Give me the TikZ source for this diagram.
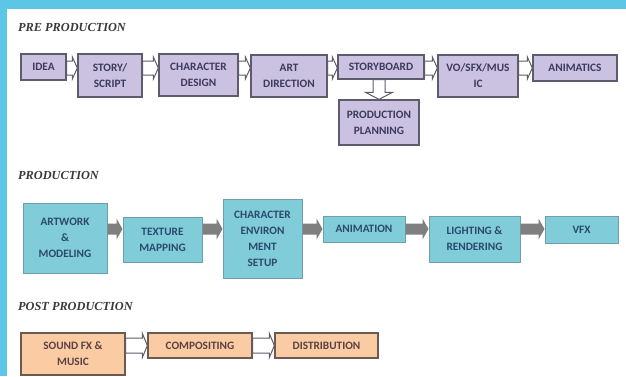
\documentclass[tikz,border=0pt]{standalone}
\usepackage{fontspec}
\setmainfont{Carlito}
\newfontfamily\titlefont{Liberation Serif}
\usetikzlibrary{calc}
\definecolor{barcyan}{HTML}{5CC6E6}
\definecolor{purfill}{HTML}{CAC2E0}
\definecolor{purline}{HTML}{5E5C6C}
\definecolor{purtext}{HTML}{3C3A5E}
\definecolor{cyfill}{HTML}{80CCD9}
\definecolor{cyline}{HTML}{6E9FAA}
\definecolor{cytext}{HTML}{2C4A6C}
\definecolor{orfill}{HTML}{FBCBA4}
\definecolor{orline}{HTML}{6A5A52}
\definecolor{ortext}{HTML}{5A4242}
\definecolor{arrgray}{HTML}{7F7F7F}
\definecolor{titlegray}{HTML}{3A3A3A}
\tikzset{
  boxtext/.style={font=\fontsize{11.3}{16}\selectfont\bfseries, align=center, inner sep=1pt},
  purbox/.style={boxtext, draw=purline, line width=1.3pt, fill=purfill, text=purtext},
  cybox/.style={boxtext, draw=cyline, line width=1pt, fill=cyfill, text=cytext},
  orbox/.style={boxtext, draw=orline, line width=1.3pt, fill=orfill, text=ortext},
  sect/.style={font=\titlefont\fontsize{12.3}{14}\selectfont\bfseries\itshape, text=titlegray, anchor=west, inner sep=0pt},
  hollow/.style={draw=purline, line width=1pt, fill=white, line join=miter},
  solidarr/.style={fill=arrgray, draw=none}
}
% #1 style, #2 from, #3 to, #4 row coordinate, #5 shaft half, #6 head half, #7 head length
\newcommand\blockarr[7]{%
  \path[#1] let \p1=(#2.east), \p2=(#3.west), \p3=(#4) in
   (\x1,\y3+#5) -- (\x2-#7,\y3+#5) -- (\x2-#7,\y3+#6) -- (\x2,\y3)
   -- (\x2-#7,\y3-#6) -- (\x2-#7,\y3-#5) -- (\x1,\y3-#5) -- cycle;}
\begin{document}
\begin{tikzpicture}[x=1pt,y=1pt]
\useasboundingbox (0,0) rectangle (626,376);
\fill[white] (0,0) rectangle (626,376);
\fill[barcyan] (0,367) rectangle (626,376);
\fill[barcyan] (0,0) rectangle (7,376);

% section titles
\node[sect] (t1) at (18,348.5) {PRE PRODUCTION};
\node[sect] (t2) at (18,201) {PRODUCTION};
\node[sect] (t3) at (18,69.5) {POST PRODUCTION};

% row coordinates
\coordinate (r1) at (0,308);
\coordinate (r2) at (0,147);
\coordinate (r3) at (0,30.5);

% pre production
\node[purbox, minimum width=45pt, minimum height=26pt] (idea) at (43.5,309) {IDEA};
\node[purbox, minimum width=64pt, minimum height=43pt] (story) at (110,300.5) {STORY/\\SCRIPT};
\node[purbox, minimum width=79pt, minimum height=42pt] (chardes) at (198.5,301) {CHARACTER\\DESIGN};
\node[purbox, minimum width=76pt, minimum height=42pt] (art) at (289,300) {ART\\DIRECTION};
\node[purbox, minimum width=86pt, minimum height=24pt] (sb) at (381,309) {STORYBOARD};
\node[purbox, minimum width=80pt, minimum height=42pt] (vo) at (478,300) {VO/SFX/MUS\\IC};
\node[purbox, minimum width=84pt, minimum height=26pt] (anim) at (575,308) {ANIMATICS};
\node[purbox, minimum width=80pt, minimum height=45pt] (plan) at (379,253.5) {PRODUCTION\\PLANNING};

\blockarr{hollow}{idea}{story}{r1}{7pt}{11pt}{5pt}
\blockarr{hollow}{story}{chardes}{r1}{7pt}{11pt}{5pt}
\blockarr{hollow}{chardes}{art}{r1}{7pt}{11pt}{5pt}
\blockarr{hollow}{art}{sb}{r1}{7pt}{11pt}{5pt}
\blockarr{hollow}{sb}{vo}{r1}{7pt}{11pt}{5pt}
\blockarr{hollow}{vo}{anim}{r1}{7pt}{11pt}{5pt}
\path[hollow] let \p1=(sb.south), \p2=(plan.north) in
  (\x2-6pt,\y1) -- (\x2-6pt,\y2+7pt) -- (\x2-13.5pt,\y2+7pt) -- (\x2,\y2)
  -- (\x2+13.5pt,\y2+7pt) -- (\x2+6pt,\y2+7pt) -- (\x2+6pt,\y1) -- cycle;

% production
\node[cybox, minimum width=84pt, minimum height=70pt] (artwork) at (65,138) {ARTWORK\\\&\\MODELING};
\node[cybox, minimum width=79pt, minimum height=45pt] (texture) at (162.5,136.5) {TEXTURE\\MAPPING};
\node[cybox, minimum width=79pt, minimum height=79pt] (charenv) at (262.5,137.5) {CHARACTER\\ENVIRON\\MENT\\SETUP};
\node[cybox, minimum width=82pt, minimum height=26pt] (animation) at (364,147) {ANIMATION};
\node[cybox, minimum width=91pt, minimum height=46pt] (lighting) at (474.5,137) {LIGHTING \&\\RENDERING};
\node[cybox, minimum width=73pt, minimum height=27pt] (vfx) at (581.5,146.5) {VFX};

\blockarr{solidarr}{artwork}{texture}{r2}{5.5pt}{10.5pt}{6pt}
\blockarr{solidarr}{texture}{charenv}{r2}{5.5pt}{10.5pt}{6pt}
\blockarr{solidarr}{charenv}{animation}{r2}{5.5pt}{10.5pt}{6pt}
\blockarr{solidarr}{animation}{lighting}{r2}{5.5pt}{10.5pt}{6pt}
\blockarr{solidarr}{lighting}{vfx}{r2}{5.5pt}{10.5pt}{6pt}

% post production
\node[orbox, minimum width=104pt, minimum height=42pt] (sound) at (73,22) {SOUND FX \&\\MUSIC};
\node[orbox, minimum width=104pt, minimum height=25pt] (comp) at (200,30.5) {COMPOSITING};
\node[orbox, minimum width=103pt, minimum height=25pt] (dist) at (326.5,30.5) {DISTRIBUTION};

\blockarr{hollow}{sound}{comp}{r3}{7.5pt}{12pt}{5pt}
\blockarr{hollow}{comp}{dist}{r3}{7.5pt}{12pt}{5pt}
\end{tikzpicture}
\end{document}
